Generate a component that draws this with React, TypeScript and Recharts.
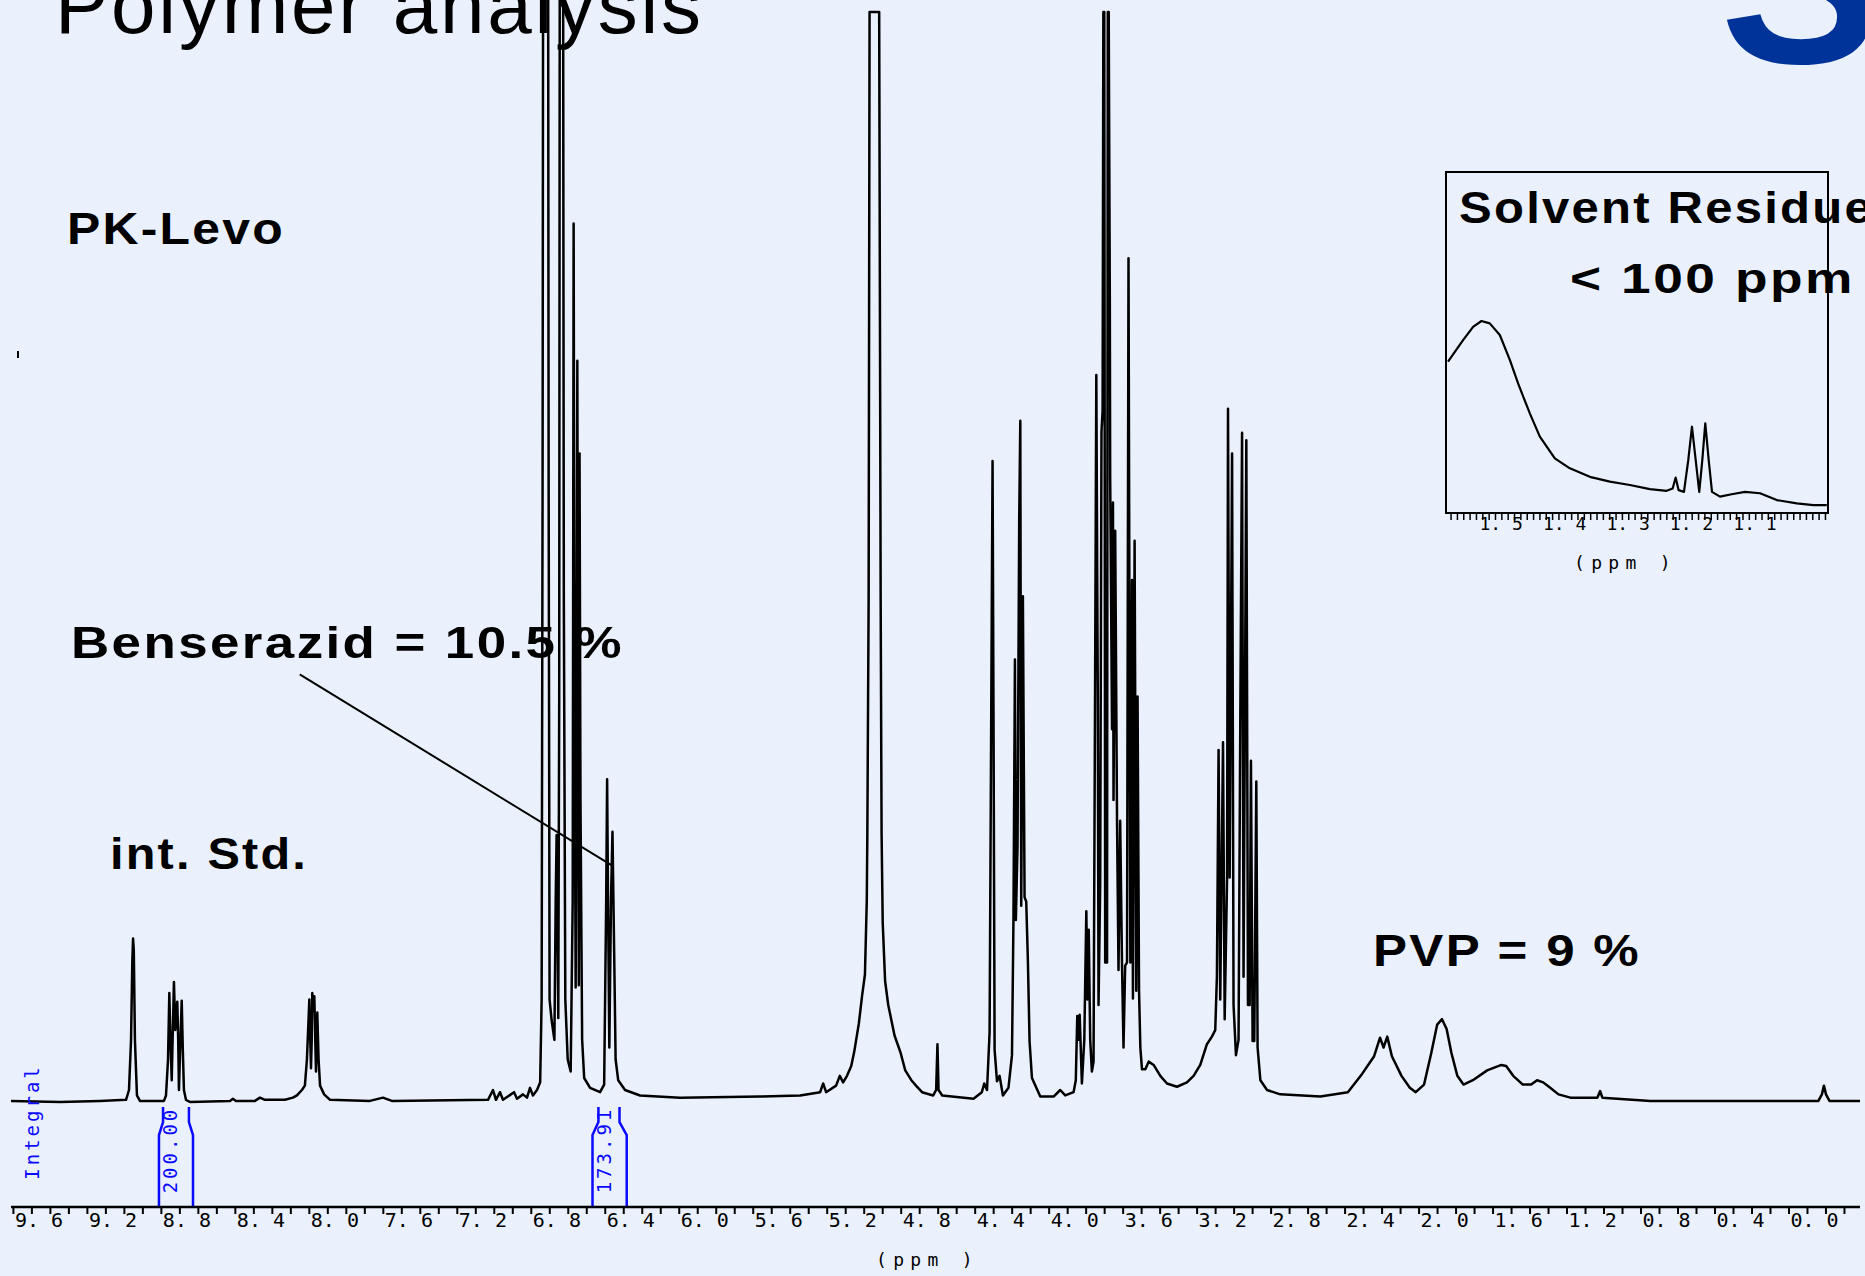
import React from 'react';
import { ComposedChart, LineChart, Line, XAxis, YAxis, ReferenceLine } from 'recharts';

// spectrum trace, [ppm, relative intensity] (100 = top of plot, clipped)
const lowFieldTrace: [number, number][] = [
  [9.713, 0.1], [9.448, 0], [9.232, 0.1], [9.091, 0.2], [9.075, 1.1], [9.064, 5.7], [9.057, 13.0], [9.053, 15.0],
  [9.049, 13.9], [9.043, 5.7], [9.032, 0.6], [9.016, 0.1], [8.886, 0.1], [8.875, 0.6], [8.864, 3.9], [8.857, 10.0],
  [8.851, 5.7], [8.844, 2.0], [8.838, 6.6], [8.832, 11.0], [8.825, 6.6], [8.819, 8.4], [8.814, 9.2], [8.809, 5.7],
  [8.805, 1.1], [8.797, 5.7], [8.790, 9.3], [8.784, 4.8], [8.778, 1.1], [8.767, 0.2], [8.745, 0], [8.529, 0.1],
  [8.513, 0.3], [8.497, 0.1], [8.394, 0.1], [8.367, 0.4], [8.340, 0.2], [8.232, 0.2], [8.189, 0.4], [8.167, 0.6],
  [8.140, 1.1], [8.124, 1.5], [8.113, 3.9], [8.100, 9.4], [8.095, 5.7], [8.091, 3.1], [8.087, 5.7], [8.084, 10.0],
  [8.079, 8.4], [8.073, 9.7], [8.068, 5.7], [8.064, 2.8], [8.060, 5.7], [8.057, 8.2], [8.050, 3.9], [8.042, 1.5],
  [8.020, 0.7], [7.988, 0.2], [7.772, 0.1], [7.702, 0.4], [7.654, 0.1], [7.134, 0.2], [7.107, 1.1], [7.091, 0.2],
  [7.069, 0.9], [7.053, 0.2], [6.993, 0.9], [6.977, 0.3], [6.945, 0.7], [6.923, 0.4], [6.907, 1.3], [6.891, 0.6],
  [6.869, 1.1],
];

const benserazidTrace: [number, number][] = [
  [6.852, 1.8], [6.844, 9.4], [6.839, 55.2], [6.836, 106], [6.809, 106], [6.806, 55.2], [6.801, 9.4], [6.790, 7.5],
  [6.775, 5.7], [6.768, 18.5], [6.763, 24.5], [6.759, 18.5], [6.754, 7.7], [6.749, 36.9], [6.746, 106], [6.728, 106],
  [6.724, 46.1], [6.716, 9.4], [6.703, 3.9], [6.687, 2.8], [6.676, 18.5], [6.671, 80.6], [6.666, 36.9], [6.660, 10.5],
  [6.655, 36.9], [6.651, 68.0], [6.647, 36.9], [6.643, 10.7], [6.639, 59.5], [6.634, 27.7], [6.625, 5.7], [6.614, 2.2],
  [6.582, 1.3], [6.528, 0.9], [6.506, 1.6], [6.495, 18.5], [6.490, 29.6], [6.485, 18.5], [6.478, 5.0], [6.469, 18.5],
  [6.461, 24.8], [6.452, 13.9], [6.444, 3.9], [6.430, 2.0], [6.393, 1.1], [6.312, 0.6], [6.095, 0.4], [5.662, 0.5],
];

const waterTrace: [number, number][] = [
  [5.446, 0.6], [5.338, 0.9], [5.322, 1.7], [5.306, 0.9], [5.252, 1.5], [5.232, 2.4], [5.214, 1.8], [5.193, 2.4],
  [5.170, 3.3], [5.154, 4.6], [5.129, 7.2], [5.111, 9.8], [5.096, 11.7], [5.086, 18.5], [5.083, 24.7], [5.076, 46.1],
  [5.071, 100], [5.019, 100], [5.011, 46.1], [5.006, 24.7], [5.000, 16.5], [4.987, 11.1], [4.970, 8.9], [4.936, 6.1],
  [4.903, 4.5], [4.878, 2.9], [4.845, 2.0], [4.820, 1.5], [4.787, 0.9], [4.727, 0.6], [4.711, 1.1], [4.704, 5.3],
  [4.698, 1.1], [4.678, 0.6],
];

const aliphaticTrace: [number, number][] = [
  [4.509, 0.3], [4.464, 0.9], [4.451, 1.7], [4.436, 1.1], [4.422, 6.4], [4.413, 36.3], [4.406, 58.8], [4.401, 36.3],
  [4.395, 4.8], [4.382, 1.9], [4.368, 2.4], [4.350, 0.6], [4.320, 1.3], [4.301, 4.3], [4.293, 16.7], [4.285, 40.6],
  [4.280, 16.7], [4.271, 23.5], [4.262, 53.4], [4.256, 62.5], [4.251, 18.0], [4.242, 46.4], [4.233, 18.8], [4.224, 18.4],
  [4.215, 13.0], [4.206, 5.6], [4.193, 2.2], [4.148, 0.5], [4.076, 0.5], [4.040, 1.1], [4.013, 0.6], [3.968, 0.9],
  [3.956, 2.0], [3.948, 7.9], [3.941, 5.7], [3.935, 8.0], [3.923, 1.7], [3.910, 5.7], [3.899, 17.5], [3.893, 9.4],
  [3.886, 15.8], [3.878, 5.7], [3.869, 2.8], [3.860, 3.7], [3.852, 36.9], [3.845, 66.7], [3.837, 36.9], [3.833, 8.9],
  [3.824, 19.9], [3.817, 61.5], [3.811, 63.4], [3.807, 100], [3.802, 100], [3.797, 12.8], [3.787, 12.8], [3.783, 100],
  [3.778, 100], [3.772, 73.6], [3.770, 57.2], [3.760, 34.2], [3.755, 55.0], [3.752, 27.7], [3.743, 52.4], [3.733, 25.8],
  [3.725, 12.1], [3.716, 25.8], [3.706, 12.5], [3.698, 5.0], [3.689, 12.5], [3.679, 12.8], [3.671, 77.4], [3.661, 12.8],
  [3.652, 47.9], [3.647, 9.5], [3.638, 51.5], [3.629, 10.2], [3.622, 37.2], [3.614, 10.2], [3.607, 5.0], [3.598, 3.0],
  [3.580, 3.0], [3.562, 3.7], [3.535, 3.4], [3.499, 2.4], [3.463, 1.7], [3.409, 1.4], [3.355, 1.8], [3.319, 2.4],
  [3.283, 3.4], [3.247, 5.3], [3.220, 6.0], [3.202, 6.6], [3.193, 11.5], [3.184, 32.3], [3.175, 9.4], [3.160, 33.0],
  [3.151, 7.6], [3.138, 20.6], [3.133, 63.6], [3.124, 20.6], [3.111, 59.5], [3.103, 8.9], [3.090, 4.3], [3.076, 5.7],
  [3.066, 36.9], [3.057, 61.4], [3.049, 11.5], [3.034, 60.7], [3.025, 8.9], [3.016, 8.9], [3.009, 31.3], [3.000, 5.6],
  [2.991, 5.6], [2.980, 29.4], [2.973, 5.0], [2.958, 2.0], [2.922, 1.1], [2.850, 0.7],
];

const pvpTrace: [number, number][] = [
  [2.634, 0.5], [2.485, 0.9], [2.407, 2.6], [2.343, 4.2], [2.311, 5.9], [2.292, 5.0], [2.272, 6.0], [2.247, 4.2],
  [2.195, 2.4], [2.150, 1.3], [2.118, 0.9], [2.073, 1.6], [2.034, 4.5], [2.002, 7.1], [1.976, 7.6], [1.951, 6.7],
  [1.925, 4.5], [1.893, 2.4], [1.860, 1.6], [1.809, 2.0], [1.732, 2.9], [1.655, 3.4], [1.629, 3.3], [1.591, 2.4],
  [1.539, 1.6], [1.494, 1.6], [1.462, 2.0], [1.429, 1.8], [1.391, 1.3], [1.346, 0.7], [1.282, 0.4], [1.136, 0.4],
  [1.121, 1.0], [1.109, 0.4], [0.849, 0.1], [-0.059, 0.1], [-0.078, 0.7], [-0.089, 1.5], [-0.100, 0.7], [-0.119, 0.1],
  [-0.284, 0.1],
];

// integral traces (drawn below the baseline)
const integralStdLeft: [number, number][] = [[8.891, -0.46], [8.891, -1.84], [8.913, -3.03], [8.913, -9.63]];
const integralStdRight: [number, number][] = [[8.751, -0.46], [8.751, -1.84], [8.729, -3.03], [8.729, -9.63]];
const integralBenLeft: [number, number][] = [[6.537, -0.46], [6.537, -1.84], [6.569, -3.03], [6.569, -9.63]];
const integralBenRight: [number, number][] = [[6.423, -0.46], [6.423, -1.84], [6.384, -3.03], [6.384, -9.63]];

// inset: solvent residue region
const insetTrace: [number, number][] = [
  [1.5748, 44.4], [1.5511, 50.7], [1.5353, 54.6], [1.5221, 56.3], [1.5090, 55.6], [1.4932, 52.2], [1.4774, 44.9],
  [1.4644, 38.0], [1.4459, 29.2], [1.4301, 22.4], [1.4065, 16.0], [1.3828, 13.1], [1.3513, 10.6], [1.3197, 9.2],
  [1.2882, 8.2], [1.2567, 7.0], [1.2303, 6.5], [1.2208, 7.2], [1.2161, 10.4], [1.2114, 6.7], [1.2030, 6.2],
  [1.1962, 15.5], [1.1904, 25.3], [1.1845, 15.5], [1.1789, 6.2], [1.1741, 15.5], [1.1694, 26.3], [1.1640, 15.5],
  [1.1588, 6.2], [1.1462, 4.8], [1.1278, 5.5], [1.1068, 6.2], [1.0831, 5.8], [1.0568, 3.8], [1.0252, 2.8],
  [0.9991, 2.3], [0.9779, 2.3],
];

const majorTicks = [9.6, 9.2, 8.8, 8.4, 8.0, 7.6, 7.2, 6.8, 6.4, 6.0, 5.6, 5.2, 4.8, 4.4, 4.0, 3.6, 3.2, 2.8, 2.4, 2.0, 1.6, 1.2, 0.8, 0.4, 0.0];
const majorLabels = ['9. 6', '9. 2', '8. 8', '8. 4', '8. 0', '7. 6', '7. 2', '6. 8', '6. 4', '6. 0', '5. 6', '5. 2', '4. 8', '4. 4', '4. 0', '3. 6', '3. 2', '2. 8', '2. 4', '2. 0', '1. 6', '1. 2', '0. 8', '0. 4', '0. 0'];
const insetMajorTicks = [1.5, 1.4, 1.3, 1.2, 1.1];
const insetMajorLabels = ['1. 5', '1. 4', '1. 3', '1. 2', '1. 1'];

const mainTickValues = Array.from({ length: 100 }, (_, i) => Math.round((9.7 - i * 0.1) * 10) / 10);
const insetTickValues = Array.from({ length: 60 }, (_, i) => Math.round((1.57 - i * 0.01) * 100) / 100);

const toRows = (pts: [number, number][]) => pts.map(([ppm, v]) => ({ ppm, v }));
const spectrumData = toRows([...lowFieldTrace, ...benserazidTrace, ...waterTrace, ...aliphaticTrace, ...pvpTrace]);
const insetData = toRows(insetTrace);

const BG = '#EAF1FC';
const BLUE = '#0a0aff';
const MONO = '"DejaVu Sans Mono", monospace';
const SANS = '"Liberation Sans", Arial, sans-serif';

const MainTick = (props: any) => {
  const { x, y, payload } = props;
  const idx = majorTicks.findIndex((t) => Math.abs(t - payload.value) < 1e-6);
  return (
    <g>
      <line x1={x} x2={x} y1={y} y2={y + 7} stroke="#000" strokeWidth={2} />
      {idx >= 0 && (
        <text x={x - 17} y={y + 20} fontFamily={MONO} fontSize={20} fill="#000">{majorLabels[idx]}</text>
      )}
    </g>
  );
};

const InsetTick = (props: any) => {
  const { x, y, payload } = props;
  const idx = insetMajorTicks.findIndex((t) => Math.abs(t - payload.value) < 1e-6);
  return (
    <g>
      <line x1={x} x2={x} y1={y} y2={y + 7} stroke="#000" strokeWidth={1.5} />
      {idx >= 0 && (
        <text x={x - 16} y={y + 17} fontFamily={MONO} fontSize={18} fill="#000">{insetMajorLabels[idx]}</text>
      )}
    </g>
  );
};

// bold annotation text, glyphs stretched to the measured width
const Note = ({ x, y, w, size = 44, children }: { x: number; y: number; w: number; size?: number; children: React.ReactNode }) => (
  <text x={x} y={y} fontFamily={SANS} fontWeight="bold" fontSize={size} letterSpacing={2} fill="#000" textLength={w} lengthAdjust="spacingAndGlyphs">
    {children}
  </text>
);

export default function App() {
  return (
    <div style={{ position: 'absolute', left: 0, top: 0, width: 1865, height: 1276, overflow: 'hidden', background: BG }}>
      <div style={{ position: 'absolute', left: 0, top: 0 }}>
        <ComposedChart width={1865} height={1276} margin={{ top: 0, right: 5, bottom: 39, left: 11 }}>
          <XAxis
            type="number"
            dataKey="ppm"
            domain={[-0.284, 9.713]}
            reversed
            allowDataOverflow
            ticks={mainTickValues}
            interval={0}
            tick={(p: any) => <MainTick {...p} />}
            tickLine={false}
            tickSize={0}
            tickMargin={0}
            axisLine={{ stroke: '#000', strokeWidth: 2.5 }}
            height={30}
          />
          <YAxis type="number" domain={[-9.633, 101.1]} allowDataOverflow hide width={0} />
          <Line data={spectrumData} dataKey="v" type="linear" stroke="#000" strokeWidth={2.5} dot={false} isAnimationActive={false} strokeLinejoin="round" />
          <Line data={toRows(integralStdLeft)} dataKey="v" type="linear" stroke={BLUE} strokeWidth={2.5} dot={false} isAnimationActive={false} />
          <Line data={toRows(integralStdRight)} dataKey="v" type="linear" stroke={BLUE} strokeWidth={2.5} dot={false} isAnimationActive={false} />
          <Line data={toRows(integralBenLeft)} dataKey="v" type="linear" stroke={BLUE} strokeWidth={2.5} dot={false} isAnimationActive={false} />
          <Line data={toRows(integralBenRight)} dataKey="v" type="linear" stroke={BLUE} strokeWidth={2.5} dot={false} isAnimationActive={false} />
          <ReferenceLine segment={[{ x: 8.152, y: 39.23 }, { x: 6.46, y: 21.66 }]} stroke="#000" strokeWidth={2} ifOverflow="visible" />
        </ComposedChart>
      </div>

      <div style={{ position: 'absolute', left: 1446, top: 172 }}>
        <LineChart width={382} height={410} margin={{ top: 0, right: 0, bottom: 0, left: 0 }}>
          <XAxis
            type="number"
            dataKey="ppm"
            domain={[0.976, 1.578]}
            reversed
            allowDataOverflow
            ticks={insetTickValues}
            interval={0}
            tick={(p: any) => <InsetTick {...p} />}
            tickLine={false}
            tickSize={0}
            tickMargin={0}
            axisLine={false}
            height={69}
          />
          <YAxis type="number" domain={[0, 100]} allowDataOverflow hide width={0} />
          <Line data={insetData} dataKey="v" type="linear" stroke="#000" strokeWidth={2.2} dot={false} isAnimationActive={false} strokeLinejoin="round" />
        </LineChart>
      </div>
      <div style={{ position: 'absolute', left: 1445, top: 171, width: 384, height: 343, border: '2px solid #000', boxSizing: 'border-box' }} />

      <svg width={1865} height={1276} style={{ position: 'absolute', left: 0, top: 0, pointerEvents: 'none' }}>
        <text x={1800} y={63} textAnchor="middle" fontFamily={SANS} fontWeight="bold" fontSize={240} fill="#003399">S</text>
        <text x={55} y={33} fontFamily={SANS} fontSize={80} fill="#000" textLength={646} lengthAdjust="spacing">Polymer analysis</text>
        <Note x={67} y={244} w={218}>PK-Levo</Note>
        <Note x={71} y={658} w={553}>Benserazid = 10.5 %</Note>
        <Note x={110} y={869} w={198}>int. Std.</Note>
        <Note x={1373} y={966} w={268}>PVP = 9 %</Note>
        <Note x={1459} y={223} w={415}>Solvent Residue</Note>
        <Note x={1570} y={293} w={285} size={42}>&lt; 100 ppm</Note>
        <text x={1574} y={569} fontFamily={MONO} fontSize={18} letterSpacing={6.3} fill="#000">(ppm )</text>
        <text x={876} y={1266} fontFamily={MONO} fontSize={18} letterSpacing={6.3} fill="#000">(ppm )</text>
        <text x={39} y={1122} transform="rotate(-90 39 1122)" textAnchor="middle" fontFamily={MONO} fontSize={19} letterSpacing={3} fill={BLUE}>Integral</text>
        <text x={177} y={1150} transform="rotate(-90 177 1150)" textAnchor="middle" fontFamily={MONO} fontSize={19} letterSpacing={3} fill={BLUE}>200.00</text>
        <text x={611} y={1150} transform="rotate(-90 611 1150)" textAnchor="middle" fontFamily={MONO} fontSize={19} letterSpacing={3} fill={BLUE}>173.91</text>
        <line x1={18} y1={351} x2={18} y2={358} stroke="#000" strokeWidth={2} />
      </svg>
    </div>
  );
}
